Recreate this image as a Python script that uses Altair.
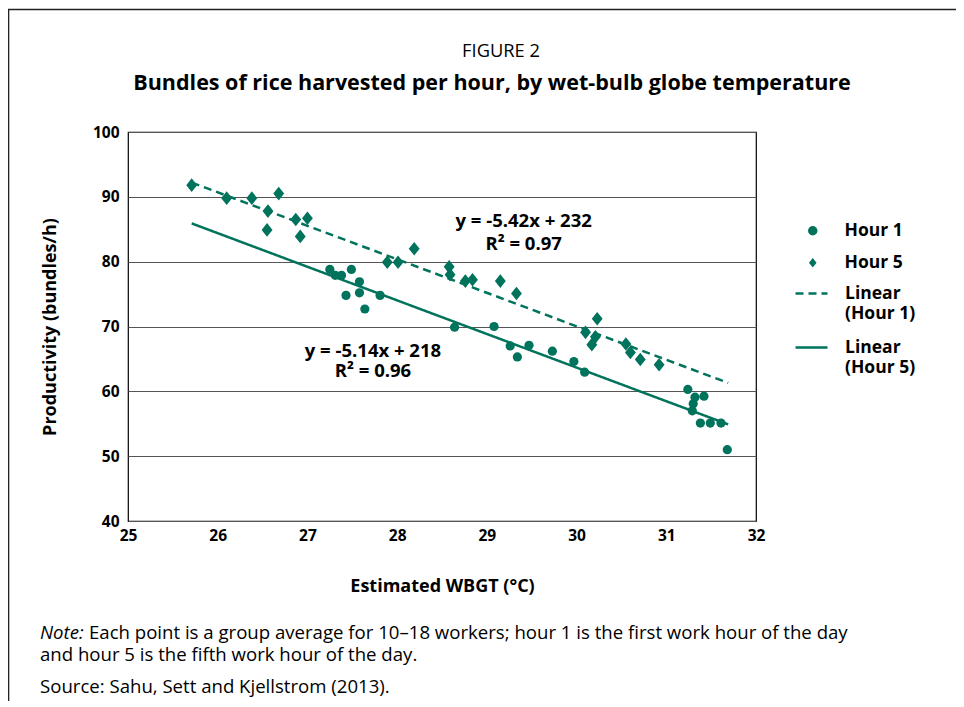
import altair as alt
import pandas as pd

FONT = "Open Sans"
GREEN = "#00735c"

# Hour 1 (circles)
h1_x = [27.25, 27.31, 27.38, 27.49, 27.58, 27.43, 27.58, 27.64, 27.81, 28.64, 29.08, 29.26,
        29.34, 29.47, 29.73, 29.97, 30.09, 31.24, 31.32, 31.42, 31.30, 31.29, 31.38, 31.49,
        31.61, 31.68]
h1_y = [78.8, 77.9, 77.9, 78.8, 76.9, 74.8, 75.2, 72.7, 74.8, 69.9, 70.0, 67.0,
        65.3, 67.1, 66.2, 64.6, 62.95, 60.3, 59.1, 59.25, 58.1, 57.0, 55.1, 55.1,
        55.1, 51.0]

# Hour 5 (diamonds)
h5_x = [25.71, 26.10, 26.38, 26.68, 26.56, 26.55, 26.87, 27.00, 26.92, 28.19, 27.89, 28.01,
        28.58, 28.59, 28.76, 28.84, 29.15, 29.33, 30.23, 30.10, 30.21, 30.17, 30.55, 30.60,
        30.71, 30.92]
h5_y = [91.8, 89.8, 89.8, 90.5, 87.8, 84.9, 86.5, 86.7, 83.9, 82.0, 79.9, 79.9,
        79.2, 78.0, 77.0, 77.2, 77.0, 75.1, 71.2, 69.1, 68.4, 67.2, 67.3, 66.0,
        64.9, 64.1]

# Trend lines (end points)
fit_series = ["Linear (Hour 1)", "Linear (Hour 1)", "Linear (Hour 5)", "Linear (Hour 5)"]
fit_x = [25.71, 31.69, 25.71, 31.69]
fit_y = [92.2, 61.3, 85.9, 54.9]

# Equation annotations
eq_text = ["y = -5.42x + 232", "R² = 0.97", "y = -5.14x + 218", "R² = 0.96"]
eq_x = [29.41, 29.41, 27.73, 27.73]
eq_y = [86.2, 82.7, 66.25, 63.1]

x_ticks = [25, 26, 27, 28, 29, 30, 31, 32]
y_ticks = [40, 50, 60, 70, 80, 90, 100]

h1 = pd.DataFrame({"x": h1_x, "y": h1_y, "series": ["Hour 1"] * len(h1_x)})
h5 = pd.DataFrame({"x": h5_x, "y": h5_y, "series": ["Hour 5"] * len(h5_x)})
fits = pd.DataFrame({"x": fit_x, "y": fit_y, "series": fit_series})
eqs = pd.DataFrame({"x": eq_x, "y": eq_y, "text": eq_text})
one = pd.DataFrame({"k": [0]})

DIAMOND = "M0,-1L0.8,0L0,1L-0.8,0Z"

x_enc = alt.X("x:Q", scale=alt.Scale(domain=[25, 32], nice=False),
              axis=alt.Axis(values=x_ticks, format="d", title="Estimated WBGT (°C)",
                            grid=False, ticks=False, domain=False, labelPadding=7,
                            labelFlush=False, titlePadding=34))
y_enc = alt.Y("y:Q", scale=alt.Scale(domain=[40, 100], nice=False),
              axis=alt.Axis(values=y_ticks, format="d", title="Productivity (bundles/h)",
                            grid=True, ticks=False, domain=False, labelPadding=9,
                            labelFlush=False, titlePadding=33))

shape_enc = alt.Shape(
    "series:N",
    scale=alt.Scale(domain=["Hour 1", "Hour 5"], range=["circle", DIAMOND]),
    legend=alt.Legend(title=None, orient="none", legendX=676, legendY=90,
                      symbolFillColor=GREEN, symbolStrokeColor=GREEN, symbolStrokeWidth=0,
                      symbolSize=90, labelOffset=23, rowPadding=13),
)

border = alt.Chart(one).mark_rect(fillOpacity=0, stroke="#222222", strokeWidth=1.6).encode(
    x=alt.value(-119.5), x2=alt.value(900), y=alt.value(-122.5), y2=alt.value(800)
)

lines = alt.Chart(fits).mark_line(color=GREEN, strokeWidth=2.5).encode(
    x=x_enc, y=y_enc,
    strokeDash=alt.StrokeDash(
        "series:N",
        scale=alt.Scale(domain=["Linear (Hour 1)", "Linear (Hour 5)"], range=[[8, 5], [1, 0]]),
        legend=alt.Legend(title=None, orient="none", legendX=666, legendY=144,
                          symbolType="stroke", symbolStrokeColor=GREEN, symbolStrokeWidth=2.5,
                          symbolSize=1024, labelOffset=16, rowPadding=8,
                          labelExpr="['Linear', substring(datum.label, 7)]"),
    ),
)

pts1 = alt.Chart(h1).mark_point(filled=True, opacity=1, color=GREEN, strokeWidth=0, size=85).encode(
    x=x_enc, y=y_enc, shape=shape_enc)
pts5 = alt.Chart(h5).mark_point(filled=True, opacity=1, color=GREEN, strokeWidth=0, size=185).encode(
    x=x_enc, y=y_enc, shape=shape_enc)

eq_layer = alt.Chart(eqs).mark_text(font=FONT, fontSize=18.5, fontWeight="bold", color="black",
                                    align="center", baseline="middle").encode(
    x=alt.X("x:Q"), y=alt.Y("y:Q"), text="text:N"
)

title1 = alt.Chart(one).mark_text(text="FIGURE 2", font=FONT, fontSize=18.3, color="black",
                                  align="center", baseline="middle").encode(
    x=alt.value(373), y=alt.value(-80))
title2 = alt.Chart(one).mark_text(
    text="Bundles of rice harvested per hour, by wet-bulb globe temperature",
    font=FONT, fontSize=21.5, fontWeight="bold", color="black",
    align="center", baseline="middle").encode(x=alt.value(364), y=alt.value(-48))

note_style = dict(font=FONT, fontSize=18.6, color="black", align="left", baseline="middle")
note1a = alt.Chart(one).mark_text(fontStyle="italic", text="Note:", **note_style).encode(
    x=alt.value(-88), y=alt.value(501))
note1b = alt.Chart(one).mark_text(
    text="Each point is a group average for 10–18 workers; hour 1 is the first work hour of the day",
    **note_style).encode(x=alt.value(-39), y=alt.value(501))
note2 = alt.Chart(one).mark_text(text="and hour 5 is the fifth work hour of the day.",
                                 **note_style).encode(x=alt.value(-88), y=alt.value(523))
note3 = alt.Chart(one).mark_text(text="Source: Sahu, Sett and Kjellstrom (2013).",
                                 **note_style).encode(x=alt.value(-88), y=alt.value(555))

chart = alt.layer(border, lines, pts1, pts5, eq_layer, title1, title2,
                  note1a, note1b, note2, note3).properties(
    width=628, height=389,
    autosize="none",
    padding={"left": 120, "top": 124, "right": 200, "bottom": 180},
    background="white",
).configure(
    style={"guide-label": {"lineHeight": 20}}
).configure_view(
    stroke="black", strokeWidth=1.2
).configure_axis(
    labelFont=FONT, labelFontSize=15.5, labelFontWeight="bold", labelColor="black",
    titleFont=FONT, titleFontSize=18, titleFontWeight="bold", titleColor="black",
    gridColor="#555555", gridWidth=1, gridOpacity=1,
).configure_legend(
    labelFont=FONT, labelFontSize=17.5, labelFontWeight="bold", labelColor="black",
    labelLimit=300,
)

chart.save("out.html", embed_options={"renderer": "svg", "actions": False})
